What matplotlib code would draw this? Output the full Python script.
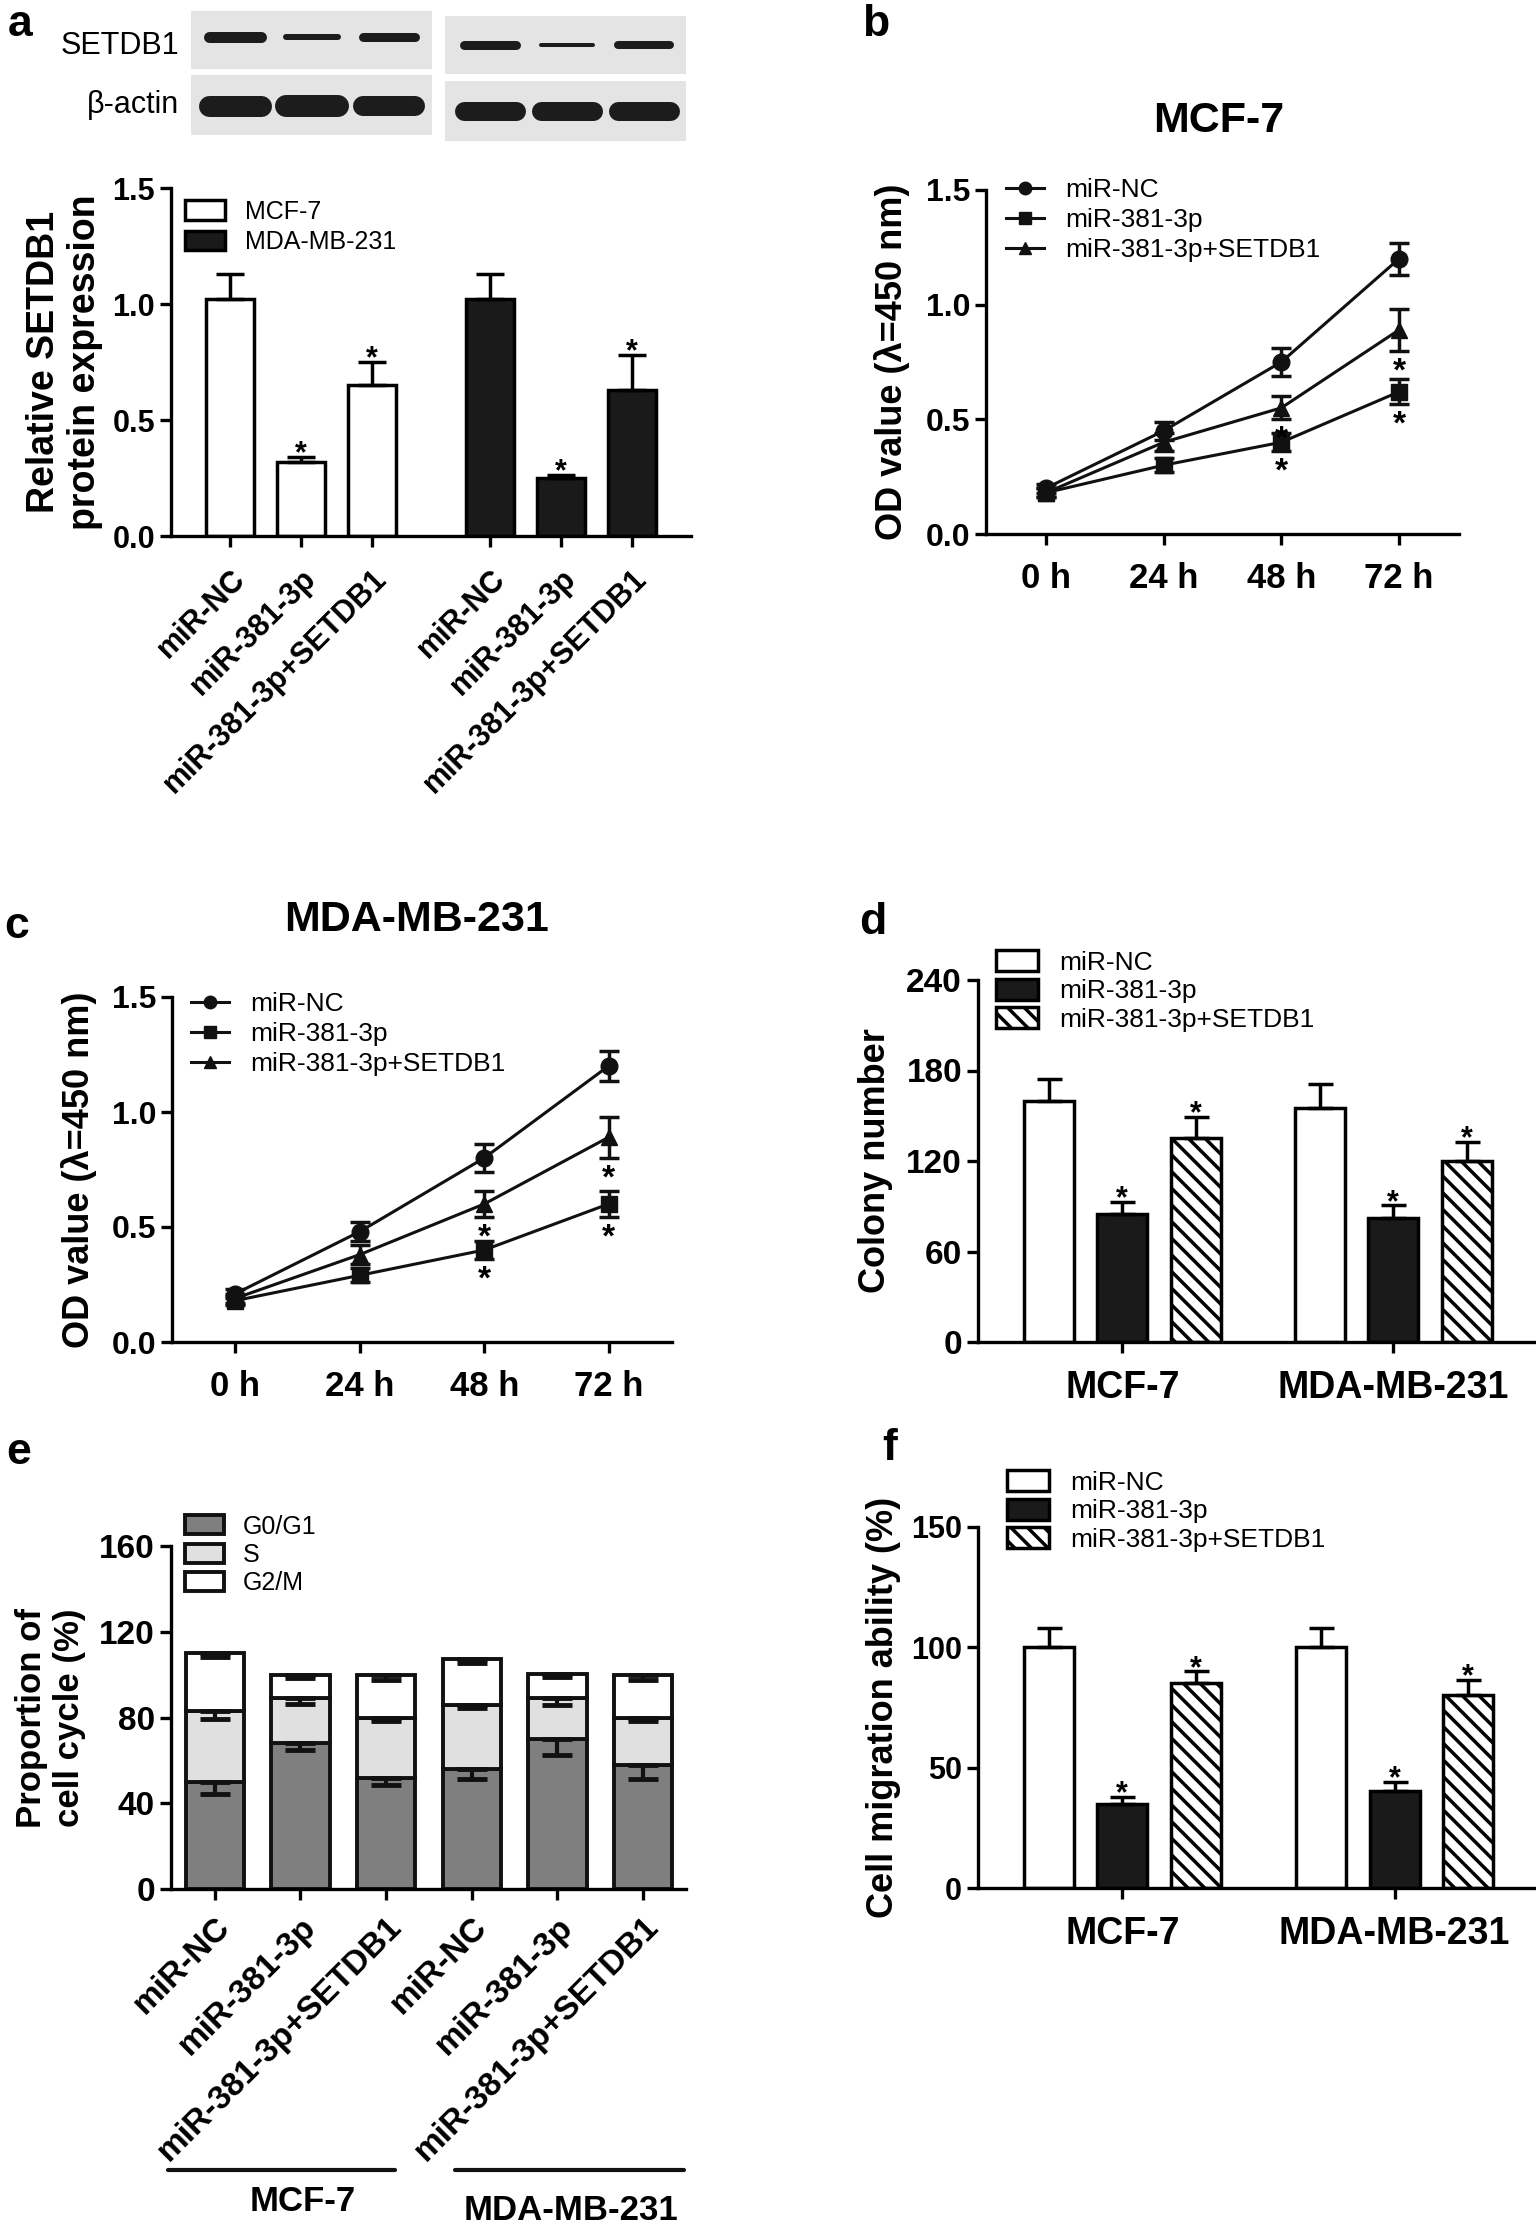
import numpy as np
import matplotlib
matplotlib.use('Agg')
import matplotlib.pyplot as plt
from matplotlib.patches import Rectangle
from matplotlib.transforms import blended_transform_factory

plt.rcParams['font.family'] = ['Liberation Sans', 'DejaVu Sans']
plt.rcParams['hatch.linewidth'] = 2.5
plt.rcParams['axes.linewidth'] = 2.4

W, H = 1536, 2224

groups3 = ['miR-NC', 'miR-381-3p', 'miR-381-3p+SETDB1']
cells = ['MCF-7', 'MDA-MB-231']
hours = ['0 h', '24 h', '48 h', '72 h']
phases = ['G0/G1', 'S', 'G2/M']

# a: western blot band thickness (px) and relative expression
blot_setdb1_mcf = [11, 6, 9]
blot_actin_mcf = [21, 22, 20]
blot_setdb1_mda = [9, 4, 8]
blot_actin_mda = [19, 19, 19]
a_mcf = [1.02, 0.32, 0.65]
a_mcf_err = [0.11, 0.02, 0.10]
a_mda = [1.02, 0.25, 0.63]
a_mda_err = [0.11, 0.015, 0.15]
a_star = [False, True, True]

# b: MCF-7 OD
b_nc = [0.20, 0.45, 0.75, 1.20]
b_nc_err = [0.02, 0.04, 0.06, 0.07]
b_381 = [0.18, 0.30, 0.40, 0.62]
b_381_err = [0.02, 0.03, 0.04, 0.055]
b_set = [0.18, 0.40, 0.55, 0.89]
b_set_err = [0.02, 0.04, 0.05, 0.09]

# c: MDA-MB-231 OD
c_nc = [0.21, 0.48, 0.80, 1.20]
c_nc_err = [0.02, 0.04, 0.06, 0.065]
c_381 = [0.18, 0.29, 0.40, 0.60]
c_381_err = [0.02, 0.03, 0.04, 0.055]
c_set = [0.19, 0.38, 0.60, 0.89]
c_set_err = [0.02, 0.04, 0.055, 0.09]
line_star = [False, False, True, True]

# d: colony number
d_nc = [160, 155]
d_nc_err = [14.5, 16]
d_381 = [85, 82]
d_381_err = [8, 8.5]
d_set = [135, 120]
d_set_err = [14.5, 12.5]

# e: cell cycle (segment sizes)
e_g0 = [50, 68, 52, 56, 70, 58]
e_g0_err = [5.5, 3.0, 3.3, 4.7, 7.5, 6.5]
e_s = [33, 21, 28, 30, 19, 22]
e_s_err = [3.5, 2.5, 1.5, 1.7, 3.3, 1.5]
e_g2 = [27, 11, 20, 21.5, 11.5, 20]
e_g2_err = [2.0, 1.5, 2.5, 2.0, 1.8, 2.5]

# f: migration
f_nc = [100, 100]
f_nc_err = [8, 8]
f_381 = [35, 40.5]
f_381_err = [3, 3.5]
f_set = [85, 80]
f_set_err = [5, 6.5]

fig = plt.figure(figsize=(W / 100, H / 100), dpi=100)


def add_ax(l, t, r, b):
    return fig.add_axes([l / W, 1 - b / H, (r - l) / W, (b - t) / H])


def fp(x, y):
    return (x / W, 1 - y / H)


def style(ax, fs):
    ax.spines['top'].set_visible(False)
    ax.spines['right'].set_visible(False)
    ax.tick_params(width=2.4, length=8, labelsize=fs, direction='out')
    plt.setp(ax.get_yticklabels(), fontweight='bold')


def stars_above(ax, xs, vals, errs, flags, fs=22):
    for x, v, e, f in zip(xs, vals, errs, flags):
        if f:
            ax.annotate('*', (x, v + e), xytext=(0, -4), textcoords='offset points',
                        ha='center', va='baseline', fontsize=fs, fontweight='bold')


def stars_below(ax, xs, vals, errs, flags, fs=24):
    for x, v, e, f in zip(xs, vals, errs, flags):
        if f:
            ax.annotate('*', (x, v - e), xytext=(0, -4), textcoords='offset points',
                        ha='center', va='top', fontsize=fs, fontweight='bold')


# panel letters
for lab, (x, y) in zip('abcdef', [(20, 25), (876, 25), (17, 926), (873, 923), (19, 1453), (890, 1448)]):
    fig.text(*fp(x, y), lab, fontsize=32, fontweight='bold', ha='center', va='center')

# ---------- a: blot ----------
axb = add_ax(0, 0, 700, 150)
axb.set_xlim(0, 700)
axb.set_ylim(150, 0)
axb.axis('off')
lanes_l = 235 + 77 * np.arange(3)
lanes_r = 490 + 77 * np.arange(3)
for x0, y0, h in [(191, 11, 58), (191, 75, 60), (445, 16, 58), (445, 81, 60)]:
    axb.add_patch(Rectangle((x0, y0), 241, h, facecolor='#e4e4e4', edgecolor='none'))
for lanes, thick, yc in [(lanes_l, blot_setdb1_mcf, 37), (lanes_l, blot_actin_mcf, 106),
                         (lanes_r, blot_setdb1_mda, 45), (lanes_r, blot_actin_mda, 111)]:
    for lx, t in zip(lanes, thick):
        axb.plot([lx - 26, lx + 26], [yc, yc], color='#1c1c1c', lw=t * 0.72,
                 solid_capstyle='round')
fig.text(*fp(179, 46), 'SETDB1', fontsize=22, ha='right', va='center')
fig.text(*fp(179, 105), '\u03b2-actin', fontsize=22, ha='right', va='center')

# ---------- a: bars ----------
ax = add_ax(171, 188, 691, 536)
xa1 = np.arange(3)
xa2 = np.arange(3) + 3.66
ax.bar(xa1, a_mcf, 0.68, color='white', edgecolor='black', lw=2.5, label=cells[0], zorder=2)
ax.bar(xa2, a_mda, 0.68, color='#1a1a1a', edgecolor='black', lw=2.5, label=cells[1], zorder=2)
for xs, v, e in [(xa1, a_mcf, a_mcf_err), (xa2, a_mda, a_mda_err)]:
    ax.errorbar(xs, v, yerr=[np.zeros(3), e], fmt='none', ecolor='black', elinewidth=2.5,
                capsize=10, capthick=2.5, zorder=3)
    stars_above(ax, xs, v, e, a_star)
ax.set_xlim(-0.83, 6.49)
ax.set_ylim(0, 1.5)
ax.set_yticks([0, 0.5, 1.0, 1.5], ['0.0', '0.5', '1.0', '1.5'])
ax.set_xticks(np.r_[xa1, xa2])
ax.set_xticklabels(groups3 * 2, rotation=45, ha='right', rotation_mode='anchor',
                   fontsize=27, fontweight='bold')
style(ax, 22)
ax.tick_params(axis='x', pad=12)
ax.set_ylabel('Relative SETDB1\nprotein expression', fontsize=27, fontweight='bold',
              linespacing=1.2)
ax.yaxis.set_label_coords(-0.13, 0.5)
ax.legend(loc='center left', bbox_to_anchor=fp(185, 227), bbox_transform=fig.transFigure,
          frameon=False, fontsize=18, handlelength=1.6, handleheight=0.84,
          handletextpad=0.8, labelspacing=0.25, borderpad=0, borderaxespad=0)

# ---------- b, c: line charts ----------
def line_panel(box, title, title_xy, series, lab_x, leg_xy):
    ax = add_ax(*box)
    x = np.arange(4)
    for (vals, errs, mk, lab, stars) in series:
        ax.plot(x, vals, marker=mk, ms=12, color='#111111', lw=2.2, label=lab, zorder=3)
        ax.errorbar(x, vals, yerr=errs, fmt='none', ecolor='#111111', elinewidth=2.5,
                    capsize=7, capthick=2.5, zorder=3)
        if stars:
            stars_below(ax, x, vals, errs, line_star)
    ax.set_xlim(-0.51, 3.51)
    ax.set_ylim(0, 1.5)
    ax.set_yticks([0, 0.5, 1.0, 1.5], ['0.0', '0.5', '1.0', '1.5'])
    ax.set_xticks(x, hours)
    style(ax, 23)
    plt.setp(ax.get_xticklabels(), fontweight='bold', fontsize=25)
    ax.tick_params(axis='x', pad=12)
    ax.set_ylabel('OD value (\u03bb=450 nm)', fontsize=26, fontweight='bold')
    ax.yaxis.set_label_coords(lab_x, 0.5)
    fig.text(*fp(*title_xy), title, fontsize=31, fontweight='bold', ha='center', va='center')
    ax.legend(loc='center left', bbox_to_anchor=fp(*leg_xy), bbox_transform=fig.transFigure,
              frameon=False, fontsize=19, handlelength=1.45, handletextpad=0.8,
              labelspacing=0.22, borderpad=0, borderaxespad=0, markerscale=0.75)
    return ax


line_panel((986, 190, 1459, 534), 'MCF-7', (1219, 121),
           [(b_nc, b_nc_err, 'o', groups3[0], False),
            (b_381, b_381_err, 's', groups3[1], True),
            (b_set, b_set_err, '^', groups3[2], True)], -0.16, (1006, 220))
line_panel((172, 997, 672, 1342), 'MDA-MB-231', (417, 920),
           [(c_nc, c_nc_err, 'o', groups3[0], False),
            (c_381, c_381_err, 's', groups3[1], True),
            (c_set, c_set_err, '^', groups3[2], True)], -0.15, (191, 1034))


# ---------- d, f: grouped bars ----------
def group_panel(box, series, ylim, yticks, ylabel, lab_x, leg_xy, gap, tick_fs):
    ax = add_ax(*box)
    styles = [dict(color='white', hatch=None), dict(color='#1a1a1a', hatch=None),
              dict(color='white', hatch='\\\\')]
    for k, (vals, errs, stars) in enumerate(series):
        xs = np.array([k, k + gap])
        ax.bar(xs, vals, 0.68, color=styles[k]['color'], hatch=styles[k]['hatch'],
               edgecolor='black', lw=2.5, label=groups3[k], zorder=2)
        ax.errorbar(xs, vals, yerr=[np.zeros(2), errs], fmt='none', ecolor='black',
                    elinewidth=2.5, capsize=9, capthick=2.5, zorder=3)
        stars_above(ax, xs, vals, errs, [stars, stars])
    ax.set_xlim(-0.96, 6.62)
    ax.set_ylim(*ylim)
    ax.set_yticks(yticks)
    ax.set_xticks([1, 1 + gap], cells)
    style(ax, tick_fs)
    plt.setp(ax.get_xticklabels(), fontweight='bold', fontsize=27)
    ax.tick_params(axis='x', pad=12)
    ax.set_ylabel(ylabel, fontsize=26, fontweight='bold')
    ax.yaxis.set_label_coords(lab_x, 0.5)
    ax.legend(loc='center left', bbox_to_anchor=fp(*leg_xy), bbox_transform=fig.transFigure,
              frameon=False, fontsize=19, handlelength=1.6, handleheight=0.85,
              handletextpad=0.8, labelspacing=0.15, borderpad=0, borderaxespad=0)
    return ax


group_panel((978, 980, 1536, 1342),
            [(d_nc, d_nc_err, False), (d_381, d_381_err, True), (d_set, d_set_err, True)],
            (0, 240), [0, 60, 120, 180, 240], 'Colony number', -0.152, (996, 991), 3.68, 24)
group_panel((978, 1527, 1536, 1888),
            [(f_nc, f_nc_err, False), (f_381, f_381_err, True), (f_set, f_set_err, True)],
            (0, 150), [0, 50, 100, 150], 'Cell migration ability (%)', -0.138, (1007, 1511),
            3.7, 22)

# ---------- e: stacked cell cycle ----------
ax = add_ax(171, 1546, 686, 1889)
xe = np.arange(6)
bottom = np.zeros(6)
for vals, errs, col, lab in [(e_g0, e_g0_err, '#7f7f7f', phases[0]),
                             (e_s, e_s_err, '#e0e0e0', phases[1]),
                             (e_g2, e_g2_err, 'white', phases[2])]:
    ax.bar(xe, vals, 0.68, bottom=bottom, color=col, edgecolor='#111111', lw=2.8,
           label=lab, zorder=2)
    top = bottom + np.array(vals)
    ax.errorbar(xe, top, yerr=[errs, np.zeros(6)], fmt='none', ecolor='#111111',
                elinewidth=3, capsize=11, capthick=3.5, zorder=3)
    bottom = top
ax.set_xlim(-0.51, 5.5)
ax.set_ylim(0, 160)
ax.set_yticks([0, 40, 80, 120, 160])
ax.set_xticks(xe)
ax.set_xticklabels(groups3 * 2, rotation=45, ha='right', rotation_mode='anchor',
                   fontsize=22, fontweight='bold')
style(ax, 24)
ax.tick_params(axis='x', pad=8)
ax.set_ylabel('Proportion of\ncell cycle (%)', fontsize=25, fontweight='bold',
              linespacing=1.2)
ax.yaxis.set_label_coords(-0.165, 0.5)
ax.legend(loc='center left', bbox_to_anchor=fp(185, 1555), bbox_transform=fig.transFigure,
          frameon=False, fontsize=18, handlelength=1.55, handleheight=0.8,
          handletextpad=0.75, labelspacing=0.18, borderpad=0, borderaxespad=0)
tr = blended_transform_factory(ax.transData, ax.transAxes)
for x0, x1, xc, yl, name in [(-0.55, 2.1, 1.03, -0.91, cells[0]),
                             (2.8, 5.48, 4.16, -0.936, cells[1])]:
    ax.plot([x0, x1], [-0.82, -0.82], color='#111111', lw=3, transform=tr, clip_on=False,
            solid_capstyle='round')
    ax.text(xc, yl, name, transform=tr, fontsize=25, fontweight='bold', ha='center',
            va='center')

fig.savefig('out.png', dpi=100)
